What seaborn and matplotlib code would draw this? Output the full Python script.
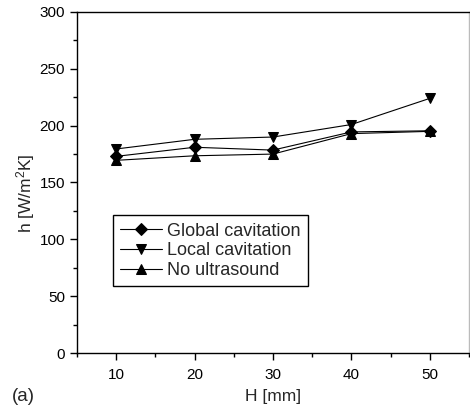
import matplotlib
matplotlib.use("Agg")
import matplotlib.pyplot as plt
import seaborn as sns
import pandas as pd
from matplotlib.ticker import MultipleLocator

H = [10, 20, 30, 40, 50]
global_cav = [173, 181, 178.5, 194.5, 195.5]
local_cav = [179.5, 188, 190, 201, 224]
no_us = [169.5, 173.5, 175, 193, 195]
series_names = ["Global cavitation", "Local cavitation", "No ultrasound"]

df = pd.concat([
    pd.DataFrame({"H": H, "h": global_cav, "series": series_names[0]}),
    pd.DataFrame({"H": H, "h": local_cav, "series": series_names[1]}),
    pd.DataFrame({"H": H, "h": no_us, "series": series_names[2]}),
])

sns.set_theme(style="ticks")
plt.rcParams["font.family"] = ["Liberation Sans", "DejaVu Sans"]
plt.rcParams["mathtext.default"] = "regular"

fig = plt.figure(figsize=(4.7, 4.08), dpi=100)
ax = fig.add_axes([0.1638, 0.1348, 0.834, 0.8358])

sns.lineplot(data=df, x="H", y="h", style="series", hue="series",
             palette=["black"] * 3,
             markers={"Global cavitation": "D", "Local cavitation": "v", "No ultrasound": "^"},
             dashes=False, markersize=6.5, linewidth=0.8, ax=ax,
             markeredgecolor="black")

ax.set_xlim(5, 55)
ax.set_ylim(0, 300)
ax.xaxis.set_major_locator(MultipleLocator(10))
ax.xaxis.set_minor_locator(MultipleLocator(5))
ax.yaxis.set_major_locator(MultipleLocator(50))
ax.yaxis.set_minor_locator(MultipleLocator(25))
ax.tick_params(which="major", direction="out", length=5, width=1, labelsize=11, colors="black")
ax.tick_params(axis="x", which="major", pad=5.5)
ax.tick_params(which="minor", direction="out", length=3, width=1, colors="black")
for s in ax.spines.values():
    s.set_color("black")
    s.set_linewidth(1)
ax.spines["right"].set_color("#bbbbbb")

ax.set_xlabel("H [mm]", fontsize=12.5, labelpad=5)
ax.set_ylabel("h [W/m$^2$K]", fontsize=12.5)
ax.yaxis.set_label_coords(-0.103, 0.469)

leg = ax.legend(loc="lower left", bbox_to_anchor=(0.092, 0.196), borderaxespad=0,
                fontsize=13, frameon=True, fancybox=False, edgecolor="black",
                handlelength=2.3, handletextpad=0.3, labelspacing=0.15,
                borderpad=0.4, title=None)
leg.get_frame().set_linewidth(1)
leg.get_frame().set_alpha(1)

fig.text(0.025, 0.018, "(a)", fontsize=13.5)

fig.savefig("out.png", dpi=100)
